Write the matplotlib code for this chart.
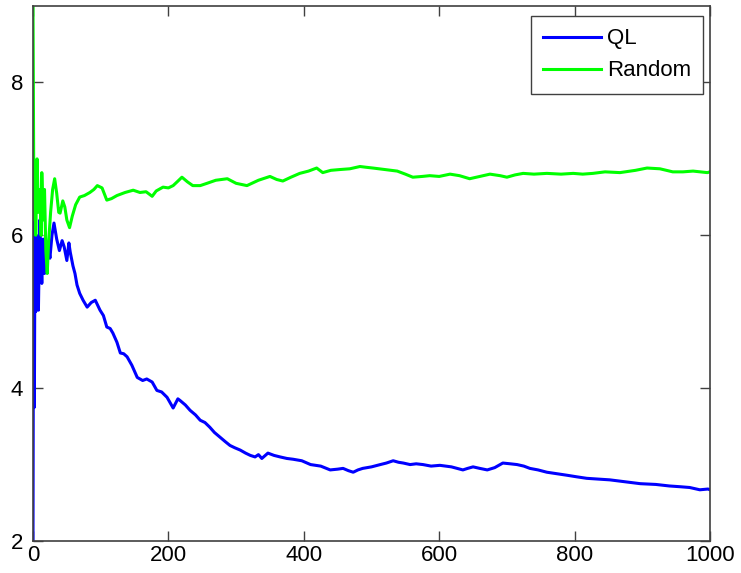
import matplotlib
matplotlib.use('Agg')
import matplotlib.pyplot as plt

# running average reward per step
ql_x = [0, 1, 2, 3, 4, 5, 6, 7, 8, 10,
        12, 13, 15, 17, 19, 21, 23, 25, 28, 31,
        35, 39, 43, 46, 50, 53, 55, 59, 62, 65,
        69, 74, 80, 86, 92, 99, 104, 109, 114, 118,
        124, 129, 134, 139, 146, 154, 162, 168, 176, 183,
        190, 198, 207, 214, 217, 225, 232, 240, 247, 254,
        261, 268, 276, 284, 291, 298, 306, 314, 321, 328,
        333, 338, 347, 356, 365, 375, 384, 397, 410, 425,
        439, 450, 458, 466, 473, 480, 487, 500, 513, 522,
        532, 540, 547, 557, 566, 576, 588, 601, 618, 635,
        642, 650, 660, 671, 682, 694, 705, 715, 725, 734,
        746, 759, 774, 789, 803, 818, 835, 852, 870, 897,
        920, 940, 956, 970, 985, 997, 1000]
ql_y = [2.0, 7.0, 3.75, 6.2, 5.0, 6.0, 5.1, 5.9, 5.02, 6.2,
        5.6, 5.37, 5.95, 5.5, 5.9, 5.67, 5.85, 5.7, 6.0, 6.16,
        5.95, 5.8, 5.93, 5.85, 5.67, 5.9, 5.78, 5.6, 5.5, 5.35,
        5.24, 5.15, 5.06, 5.12, 5.15, 5.02, 4.95, 4.8, 4.78, 4.72,
        4.6, 4.46, 4.45, 4.41, 4.3, 4.14, 4.1, 4.12, 4.08, 3.97,
        3.95, 3.88, 3.74, 3.86, 3.84, 3.78, 3.71, 3.65, 3.58, 3.55,
        3.49, 3.42, 3.36, 3.3, 3.25, 3.22, 3.19, 3.15, 3.12, 3.1,
        3.13, 3.08, 3.15, 3.12, 3.10, 3.08, 3.07, 3.05, 3.0, 2.98,
        2.93, 2.94, 2.95, 2.92, 2.9, 2.93, 2.95, 2.97, 3.0, 3.02,
        3.05, 3.03, 3.02, 3.0, 3.01, 3.0, 2.98, 2.99, 2.97, 2.93,
        2.95, 2.97, 2.95, 2.93, 2.96, 3.02, 3.01, 3.0, 2.98, 2.95,
        2.93, 2.9, 2.88, 2.86, 2.84, 2.82, 2.81, 2.8, 2.78, 2.75,
        2.74, 2.72, 2.71, 2.70, 2.67, 2.68, 2.67]

rnd_x = [0, 1, 2, 3, 4, 6, 8, 10, 12, 13,
         15, 17, 19, 21, 23, 26, 29, 32, 35, 38,
         40, 44, 47, 50, 54, 58, 63, 69, 76, 84,
         90, 95, 102, 109, 116, 124, 136, 148, 158, 167,
         176, 182, 188, 192, 200, 207, 213, 220, 228, 236,
         247, 257, 270, 287, 300, 316, 333, 350, 360, 369,
         381, 394, 407, 419, 428, 440, 453, 468, 483, 492,
         502, 520, 538, 550, 561, 575, 586, 600, 616, 630,
         645, 660, 675, 690, 700, 712, 724, 740, 759, 780,
         798, 812, 827, 845, 867, 890, 907, 926, 945, 960,
         975, 996, 1000]
rnd_y = [9.0, 7.0, 6.2, 6.9, 6.0, 7.0, 6.3, 6.6, 6.0, 6.82,
         6.2, 6.6, 5.8, 5.5, 5.9, 6.3, 6.6, 6.74, 6.55, 6.3,
         6.29, 6.45, 6.37, 6.2, 6.1, 6.25, 6.4, 6.5, 6.52, 6.56,
         6.6, 6.65, 6.62, 6.46, 6.48, 6.52, 6.56, 6.59, 6.56, 6.57,
         6.51, 6.58, 6.61, 6.63, 6.62, 6.65, 6.7, 6.76, 6.7, 6.65,
         6.65, 6.68, 6.72, 6.74, 6.68, 6.65, 6.72, 6.77, 6.73, 6.71,
         6.76, 6.81, 6.84, 6.88, 6.82, 6.85, 6.86, 6.87, 6.9, 6.89,
         6.88, 6.86, 6.84, 6.8, 6.76, 6.77, 6.78, 6.77, 6.8, 6.78,
         6.74, 6.77, 6.8, 6.78, 6.76, 6.79, 6.81, 6.80, 6.81, 6.80,
         6.81, 6.80, 6.81, 6.83, 6.82, 6.85, 6.88, 6.87, 6.83, 6.83,
         6.84, 6.82, 6.83]

plt.rcParams['font.family'] = ['Liberation Sans', 'DejaVu Sans']

fig = plt.figure(figsize=(7.41, 5.73), dpi=100)
ax = fig.add_axes([33/741, 32/573, 677/741, 535/573])

ax.plot(ql_x, ql_y, color='#0000ff', lw=2.2, label='QL')
ax.plot(rnd_x, rnd_y, color='#00ff00', lw=2.2, label='Random')

ax.set_xlim(0, 1000)
ax.set_ylim(2, 9)
ax.set_xticks([0, 200, 400, 600, 800, 1000])
ax.set_yticks([2, 4, 6, 8])
ax.tick_params(direction='in', length=7, width=1, color='#404040',
               top=True, right=True, labelsize=16)
ax.tick_params(axis='x', pad=3)
ax.tick_params(axis='y', pad=7)
for s in ax.spines.values():
    s.set_color('#404040')
    s.set_linewidth(1.2)

leg = ax.legend(loc='upper right', bbox_to_anchor=(0.9897, 0.981),
                borderaxespad=0, fancybox=False, framealpha=1,
                fontsize=16, handlelength=2.6, handletextpad=0.25,
                borderpad=0.55, labelspacing=0.5)
leg.get_frame().set_edgecolor('#404040')
leg.get_frame().set_linewidth(1.0)

fig.savefig('out.png', dpi=100)
